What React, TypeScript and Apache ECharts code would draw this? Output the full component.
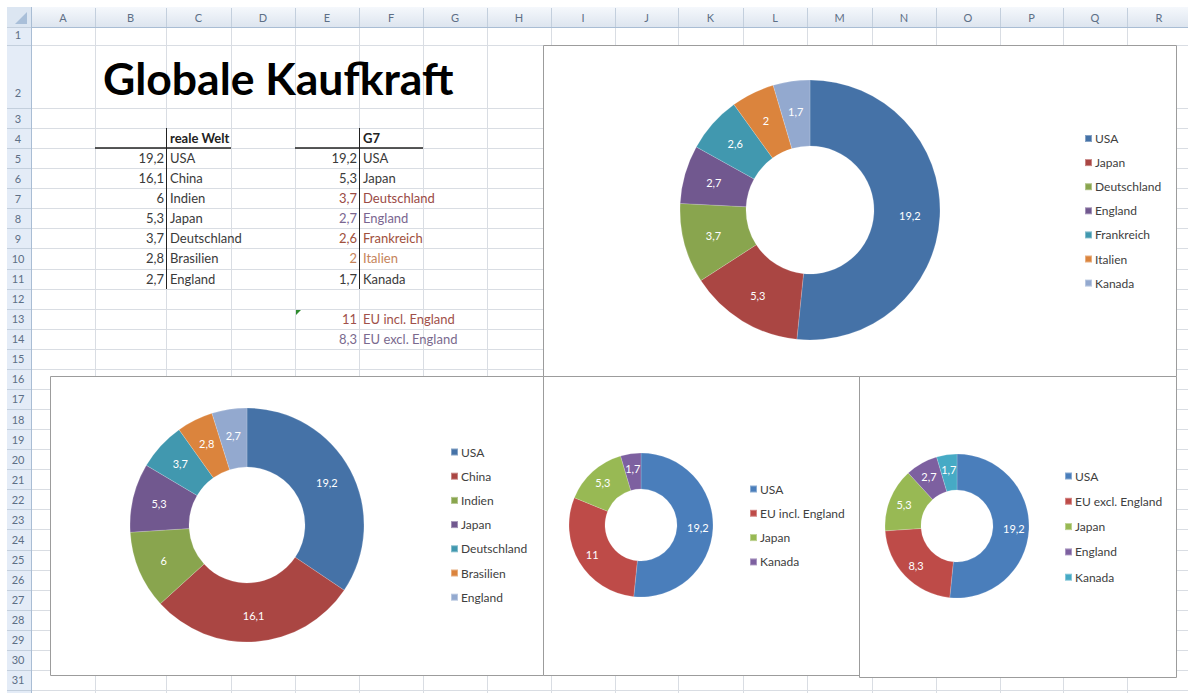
import React, { useEffect, useRef } from "react";
import * as echarts from "echarts";

// ---------- data ----------
const realeWeltNames = ["USA", "China", "Indien", "Japan", "Deutschland", "Brasilien", "England"];
const realeWeltValues = [19.2, 16.1, 6, 5.3, 3.7, 2.8, 2.7];

const g7Names = ["USA", "Japan", "Deutschland", "England", "Frankreich", "Italien", "Kanada"];
const g7Values = [19.2, 5.3, 3.7, 2.7, 2.6, 2, 1.7];

const euSummaryNames = ["EU incl. England", "EU excl. England"];
const euSummaryValues = [11, 8.3];

const euInclNames = ["USA", "EU incl. England", "Japan", "Kanada"];
const euInclValues = [19.2, 11, 5.3, 1.7];

const euExclNames = ["USA", "EU excl. England", "Japan", "England", "Kanada"];
const euExclValues = [19.2, 8.3, 5.3, 2.7, 1.7];

const columnLetters = ["A", "B", "C", "D", "E", "F", "G", "H", "I", "J", "K", "L", "M", "N", "O", "P", "Q", "R"];
const titleText = "Globale Kaufkraft";
const realeWeltHeader = "reale Welt";
const g7Header = "G7";

// ---------- styles ----------
const darkPalette = ["#4572A7", "#AA4643", "#89A54E", "#71588F", "#4198AF", "#DB843D", "#93A9CF"];
const brightPalette = ["#4A7EBB", "#BE4B48", "#98B954", "#7D60A0", "#46AAC5"];
const g7TextColors = ["#3a3a3a", "#3a3a3a", "#9a4a45", "#7a6690", "#a0503c", "#c5835a", "#3a3a3a"];
const euSummaryColors = ["#a0504a", "#7a6a8e"];

const colBounds = [31, 95, 166, 231, 295, 359, 423, 487, 551, 615, 678, 743, 807, 872, 936, 1000, 1063, 1127, 1191];
const rowTop = (n: number) => (n === 1 ? 27 : n === 2 ? 45 : 108 + (n - 3) * 20.07);
const rowMid = (n: number) => rowTop(n) + 10;

const UI_FONT = "Lato, 'Open Sans', sans-serif";

function fmt(v: number) {
  return String(v).replace(".", ",");
}

function buildGraphic() {
  const els: any[] = [];
  els.push({ type: "rect", z: 0, shape: { x: 0, y: 0, width: 1188, height: 693 }, style: { fill: "#ffffff" } });
  for (let i = 1; i < colBounds.length; i++) {
    const x = colBounds[i] + 0.5;
    els.push({ type: "line", z: 0, shape: { x1: x, y1: 27, x2: x, y2: 693 }, style: { stroke: "#d9dde3", lineWidth: 1 } });
  }
  for (let n = 1; n <= 33; n++) {
    const y = Math.round(rowTop(n)) + 0.5;
    if (y > 693) break;
    els.push({ type: "line", z: 0, shape: { x1: 31, y1: y, x2: 1188, y2: y }, style: { stroke: "#d9dde3", lineWidth: 1 } });
  }
  els.push({
    type: "rect", z: 0,
    shape: { x: 7, y: 7, width: 1181, height: 20 },
    style: {
      fill: new echarts.graphic.LinearGradient(0, 0, 0, 1, [
        { offset: 0, color: "#f5f8fc" },
        { offset: 1, color: "#dde5ef" },
      ]),
    },
  });
  els.push({ type: "line", z: 0, shape: { x1: 7, y1: 27.5, x2: 1188, y2: 27.5 }, style: { stroke: "#a9bdd4", lineWidth: 1 } });
  for (let i = 0; i < colBounds.length; i++) {
    const x = colBounds[i] + 0.5;
    els.push({ type: "line", z: 0, shape: { x1: x, y1: 8, x2: x, y2: 27 }, style: { stroke: "#c3cfdd", lineWidth: 1 } });
  }
  columnLetters.forEach((c, i) => {
    els.push({
      type: "text", z: 0,
      x: (colBounds[i] + colBounds[i + 1]) / 2, y: 17,
      style: { text: c, fill: "#5d6f86", fontSize: 11, fontFamily: UI_FONT, align: "center", verticalAlign: "middle" },
    });
  });
  els.push({ type: "rect", z: 0, shape: { x: 7, y: 27, width: 24, height: 666 }, style: { fill: "#e4ecf7" } });
  els.push({ type: "line", z: 0, shape: { x1: 31.5, y1: 7, x2: 31.5, y2: 693 }, style: { stroke: "#a9bdd4", lineWidth: 1 } });
  for (let n = 1; n <= 33; n++) {
    const y = Math.round(rowTop(n)) + 0.5;
    if (y > 693) break;
    els.push({ type: "line", z: 0, shape: { x1: 7, y1: y, x2: 31, y2: y }, style: { stroke: "#c3cfdd", lineWidth: 1 } });
  }
  for (let n = 1; n <= 31; n++) {
    const y = n === 2 ? 92 : n === 1 ? 34 : rowMid(n);
    els.push({
      type: "text", z: 0, x: 18, y,
      style: { text: String(n), fill: "#5d6f86", fontSize: 11, fontFamily: UI_FONT, align: "center", verticalAlign: "middle" },
    });
  }
  els.push({ type: "rect", z: 0, shape: { x: 7, y: 7, width: 24, height: 20 }, style: { fill: "#dce6f2" } });
  els.push({ type: "polygon", z: 0, shape: { points: [[27, 12], [27, 24], [15, 24]] }, style: { fill: "#a9bfd9" } });

  els.push({
    type: "text", z: 0, x: 103, y: 100,
    style: { text: titleText, fill: "#000000", fontSize: 44.5, fontWeight: "bold", fontFamily: UI_FONT, align: "left", verticalAlign: "bottom" },
  });

  const tf = 13;
  els.push({ type: "text", z: 0, x: 170, y: rowMid(4), style: { text: realeWeltHeader, fill: "#222", fontSize: tf, fontWeight: "bold", fontFamily: UI_FONT, verticalAlign: "middle" } });
  realeWeltNames.forEach((nm, i) => {
    els.push({ type: "text", z: 0, x: 164, y: rowMid(5 + i), style: { text: fmt(realeWeltValues[i]), fill: "#3a3a3a", fontSize: tf, fontFamily: UI_FONT, align: "right", verticalAlign: "middle" } });
    els.push({ type: "text", z: 0, x: 170, y: rowMid(5 + i), style: { text: nm, fill: "#3a3a3a", fontSize: tf, fontFamily: UI_FONT, verticalAlign: "middle" } });
  });
  els.push({ type: "text", z: 0, x: 363, y: rowMid(4), style: { text: g7Header, fill: "#222", fontSize: tf, fontWeight: "bold", fontFamily: UI_FONT, verticalAlign: "middle" } });
  g7Names.forEach((nm, i) => {
    els.push({ type: "text", z: 0, x: 357, y: rowMid(5 + i), style: { text: fmt(g7Values[i]), fill: g7TextColors[i], fontSize: tf, fontFamily: UI_FONT, align: "right", verticalAlign: "middle" } });
    els.push({ type: "text", z: 0, x: 363, y: rowMid(5 + i), style: { text: nm, fill: g7TextColors[i], fontSize: tf, fontFamily: UI_FONT, verticalAlign: "middle" } });
  });
  euSummaryNames.forEach((nm, i) => {
    els.push({ type: "text", z: 0, x: 357, y: rowMid(13 + i), style: { text: fmt(euSummaryValues[i]), fill: euSummaryColors[i], fontSize: tf, fontFamily: UI_FONT, align: "right", verticalAlign: "middle" } });
    els.push({ type: "text", z: 0, x: 363, y: rowMid(13 + i), style: { text: nm, fill: euSummaryColors[i], fontSize: tf, fontFamily: UI_FONT, verticalAlign: "middle" } });
  });
  els.push({ type: "line", z: 0, shape: { x1: 95, y1: 148, x2: 231, y2: 148 }, style: { stroke: "#222", lineWidth: 1.5 } });
  els.push({ type: "line", z: 0, shape: { x1: 295, y1: 148, x2: 423, y2: 148 }, style: { stroke: "#222", lineWidth: 1.5 } });
  els.push({ type: "line", z: 0, shape: { x1: 166.5, y1: 128, x2: 166.5, y2: 289 }, style: { stroke: "#222", lineWidth: 1 } });
  els.push({ type: "line", z: 0, shape: { x1: 359.5, y1: 128, x2: 359.5, y2: 289 }, style: { stroke: "#222", lineWidth: 1 } });
  els.push({ type: "polygon", z: 0, shape: { points: [[296, 310], [301, 310], [296, 315]] }, style: { fill: "#2e8b2e" } });

  const boxes = [
    [543, 45, 633, 331],
    [50, 376, 493, 299],
    [543, 376, 316, 299],
    [859, 376, 317, 301],
  ];
  boxes.forEach(([x, y, w, h]) => {
    els.push({ type: "rect", z: 1, shape: { x: x + 0.5, y: y + 0.5, width: w, height: h }, style: { fill: "#ffffff", stroke: "#9c9c9c", lineWidth: 1 } });
  });
  return els;
}

function pieSeries(names: string[], values: number[], palette: string[], center: number[], radius: number[], fontSize: number) {
  return {
    type: "pie",
    z: 3,
    center,
    radius,
    startAngle: 90,
    clockwise: true,
    avoidLabelOverlap: false,
    silent: true,
    label: {
      show: true,
      position: "inside",
      color: "#ffffff",
      fontSize,
      fontFamily: UI_FONT,
      formatter: (p: any) => fmt(p.value),
    },
    labelLine: { show: false },
    emphasis: { disabled: true },
    itemStyle: { borderColor: "rgba(255,255,255,0.35)", borderWidth: 0.5 },
    data: names.map((n, i) => ({ name: n, value: values[i], itemStyle: { color: palette[i] } })),
  };
}

function legendFor(names: string[], palette: string[], left: number, top: number, gap: number) {
  return {
    orient: "vertical",
    left,
    top,
    padding: 0,
    itemGap: gap,
    itemWidth: 7,
    itemHeight: 7,
    icon: "rect",
    selectedMode: false,
    textStyle: { color: "#404040", fontSize: 12, fontFamily: UI_FONT, lineHeight: 14, padding: [0, 0, 0, -2] },
    data: names.map((n, i) => ({ name: n, icon: "rect", itemStyle: { color: palette[i] } })),
  };
}

export default function App() {
  const ref = useRef<HTMLDivElement>(null);
  useEffect(() => {
    document.body.style.margin = "0";
    if (!ref.current) return;
    const chart = echarts.init(ref.current, null, { renderer: "svg" });
    chart.setOption({
      animation: false,
      backgroundColor: "#ffffff",
      graphic: { elements: buildGraphic() },
      legend: [
        legendFor(g7Names, darkPalette, 1084, 131.5, 10.1),
        legendFor(realeWeltNames, darkPalette, 450, 445, 10.2),
        legendFor(euInclNames, brightPalette, 749, 482, 10.3),
        legendFor(euExclNames, brightPalette, 1064, 469, 11.3),
      ],
      series: [
        pieSeries(g7Names, g7Values, darkPalette, [810, 210], [64, 130], 11),
        pieSeries(realeWeltNames, realeWeltValues, darkPalette, [247, 525], [58, 117], 11),
        pieSeries(euInclNames, euInclValues, brightPalette, [641, 525], [36, 72], 11),
        pieSeries(euExclNames, euExclValues, brightPalette, [957, 526], [36, 72], 11),
      ],
    });
    return () => chart.dispose();
  }, []);
  return <div ref={ref} style={{ width: 1188, height: 693 }} />;
}
